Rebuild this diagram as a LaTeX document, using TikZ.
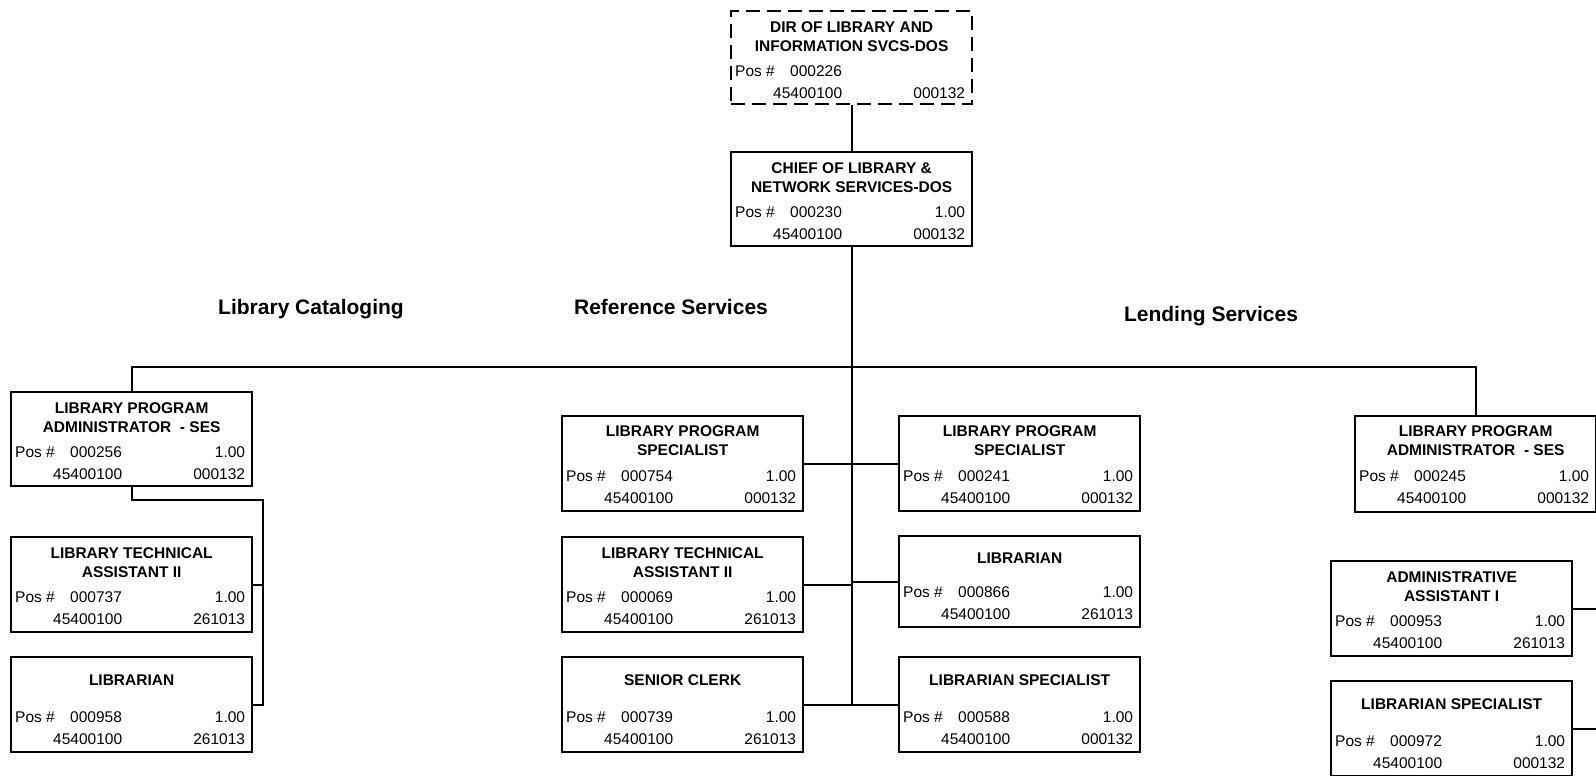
\documentclass[tikz,border=0pt]{standalone}
\usepackage{fontspec}
\setmainfont{Liberation Sans}
\begin{document}
\begin{tikzpicture}[x=1pt,y=-1pt,
  orgbox/.style={draw, line width=2.3pt, anchor=north west, minimum width=241pt, inner sep=0pt},
  vacant/.style={dashed, dash pattern=on 14pt off 7pt},
  link/.style={draw, line width=2.3pt},
  titletext/.style={font=\bfseries\fontsize{15.5}{19}\selectfont, align=center, inner sep=0pt},
  rowtext/.style={font=\fontsize{15.5}{19}\selectfont, inner sep=0pt},
  heading/.style={font=\bfseries\fontsize{21}{25}\selectfont, anchor=base, inner sep=0pt}]

\useasboundingbox (0,0) rectangle (1596,776);

% box text: [row lift]{node}{title offset}{title}{pos}{fte}{budget code}
\newcommand\boxtext[7][0]{%
  \node[titletext] at ([yshift=-#3pt]#2.north) {#4};
  \node[rowtext, anchor=west] at ([xshift=5pt,yshift={-61pt+#1pt}]#2.north west) {Pos \#};
  \node[rowtext, anchor=west] at ([xshift=60pt,yshift={-61pt+#1pt}]#2.north west) {#5};
  \node[rowtext, anchor=east] at ([xshift=-8pt,yshift={-61pt+#1pt}]#2.north east) {#6};
  \node[rowtext, anchor=west] at ([xshift=43pt,yshift={-83pt+#1pt}]#2.north west) {45400100};
  \node[rowtext, anchor=east] at ([xshift=-8pt,yshift={-83pt+#1pt}]#2.north east) {#7};
}

% top of the chain
\node[orgbox, vacant, minimum height=93pt] (dir) at (730,10) {};
\node[orgbox, minimum height=94pt] (chief) at (730,151) {};

% Library Cataloging
\node[orgbox, minimum height=94pt] (lpaL) at (10,391) {};
\node[orgbox, minimum height=95pt] (techL) at (10,536) {};
\node[orgbox, minimum height=95pt] (libL) at (10,656) {};

% Reference Services
\node[orgbox, minimum height=95pt] (lpsM) at (561,415) {};
\node[orgbox, minimum height=95pt] (techM) at (561,536) {};
\node[orgbox, minimum height=95pt] (clerkM) at (561,656) {};
\node[orgbox, minimum height=95pt] (lpsR) at (898,415) {};
\node[orgbox, minimum height=91pt] (libR) at (898,535) {};
\node[orgbox, minimum height=95pt] (libspecR) at (898,656) {};

% Lending Services
\node[orgbox, minimum height=96pt] (lpaRt) at (1354,415) {};
\node[orgbox, minimum height=95pt] (adminRt) at (1330,560) {};
\node[orgbox, minimum height=95pt] (libspecRt) at (1330,680) {};

% box contents
\boxtext{dir}{27}{DIR OF LIBRARY AND\\INFORMATION SVCS-DOS}{000226}{}{000132}
\boxtext{chief}{27}{CHIEF OF LIBRARY \&\\NETWORK SERVICES-DOS}{000230}{1.00}{000132}
\boxtext{lpaL}{27}{LIBRARY PROGRAM\\ADMINISTRATOR\ \ - SES}{000256}{1.00}{000132}
\boxtext{techL}{27}{LIBRARY TECHNICAL\\ASSISTANT II}{000737}{1.00}{261013}
\boxtext{libL}{24}{LIBRARIAN}{000958}{1.00}{261013}
\boxtext{lpsM}{26}{LIBRARY PROGRAM\\SPECIALIST}{000754}{1.00}{000132}
\boxtext{techM}{27}{LIBRARY TECHNICAL\\ASSISTANT II}{000069}{1.00}{261013}
\boxtext{clerkM}{24}{SENIOR CLERK}{000739}{1.00}{261013}
\boxtext{lpsR}{26}{LIBRARY PROGRAM\\SPECIALIST}{000241}{1.00}{000132}
\boxtext[4]{libR}{23}{LIBRARIAN}{000866}{1.00}{261013}
\boxtext{libspecR}{24}{LIBRARIAN SPECIALIST}{000588}{1.00}{000132}
\boxtext{lpaRt}{26}{LIBRARY PROGRAM\\ADMINISTRATOR\ \ - SES}{000245}{1.00}{000132}
\boxtext{adminRt}{27}{ADMINISTRATIVE\\ASSISTANT I}{000953}{1.00}{261013}
\boxtext{libspecRt}{24}{LIBRARIAN SPECIALIST}{000972}{1.00}{000132}

% section headings
\node[heading] (hCat) at (311,314) {Library Cataloging};
\node[heading] (hRef) at (671,314) {Reference Services};
\node[heading] (hLend) at (1211,321) {Lending Services};

% reporting lines
\coordinate (bus) at (chief.south |- 0,367);
\coordinate (trunkEnd) at (chief.south |- 0,703.5);
\coordinate (spineL) at (263,500);
\coordinate (rightEdge) at (1600,0);

\path[link] (dir.south) -- (chief.north);
\path[link] (chief.south) -- (trunkEnd);
\path[link] (lpaL.north) -- (lpaL.north |- bus) -- (lpaRt.north |- bus) -- (lpaRt.north);

\path[link] (lpaL.south) |- (spineL) -- (spineL |- libL.east) -- (libL.east);
\path[link] (techL.east) -- (techL.east -| spineL);

\path[link] (lpsM.east) -- (lpsR.west);
\path[link] (techM.east) -- (techM.east -| chief.south);
\path[link] (libR.west) -- (libR.west -| chief.south);
\path[link] (clerkM.east) -- (libspecR.west);

\path[link] (lpaRt.east) -- (lpaRt.east -| rightEdge);
\path[link] (adminRt.east) -- (adminRt.east -| rightEdge);
\path[link] (libspecRt.east) -- (libspecRt.east -| rightEdge);
\end{tikzpicture}
\end{document}
